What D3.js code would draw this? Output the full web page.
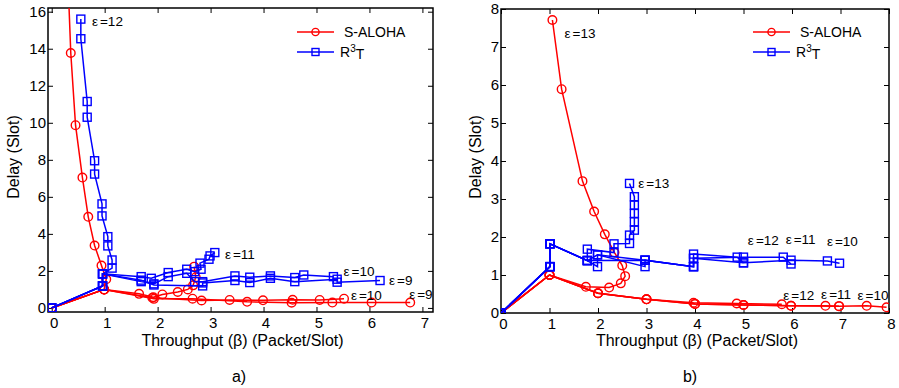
<!DOCTYPE html>
<html lang="en">
<head>
<meta charset="UTF-8">
<title>Delay vs Throughput: S-ALOHA and R3T</title>
<script src="https://d3js.org/d3.v7.min.js"></script>
<style>
  body { margin: 0; background: #fff; }
  svg { display: block; font-family: "Liberation Sans", Arial, sans-serif; }
  .axis text { font-size: 15px; fill: #000; font-family: "Liberation Sans", Arial, sans-serif; }
  .axis line { stroke: #000; stroke-width: 1; }
  .axis-title { font-size: 16px; fill: #000; }
  .caption { font-size: 16px; fill: #000; }
  .eps { font-size: 13.5px; fill: #000; }
  .legend-text { font-size: 14px; fill: #000; }
</style>
</head>
<body>
<svg id="chart" width="899" height="388"></svg>
<script>
// ---- panel a) data: [throughput, delay] ----
const alohaA12 = [[0,0],[0.99,1.0],[1.03,1.55],[0.94,2.29],[0.81,3.37],[0.69,4.92],[0.58,7.04],[0.45,9.87],[0.36,13.77],[0.27,20.5]];
const alohaA11 = [[0,0],[0.99,1.0],[1.65,0.76],[1.92,0.58],[2.09,0.73],[2.38,0.86],[2.57,1.0],[2.67,1.22],[2.72,1.66],[2.69,2.23]];
const alohaA10 = [[0,0],[0.99,1.0],[1.90,0.55],[2.83,0.40],[3.36,0.43],[3.99,0.41],[4.55,0.44],[5.06,0.43],[5.52,0.50]];
const alohaA9  = [[0,0],[0.99,1.0],[1.93,0.49],[2.66,0.50],[3.69,0.33],[4.53,0.28],[5.30,0.29],[6.04,0.29],[6.77,0.29]];

const r3tA12 = [[0,0],[0.96,1.19],[0.96,1.84],[1.14,2.15],[1.14,2.59],[1.06,3.35],[1.06,3.85],[0.95,4.97],[0.95,5.62],[0.81,7.23],[0.81,7.95],[0.67,10.3],[0.67,11.15],[0.55,14.54],[0.55,15.6]];
const r3tA11 = [[0,0],[0.96,1.19],[0.96,1.84],[1.69,1.69],[1.88,1.60],[2.20,1.91],[2.55,2.09],[2.70,1.96],[2.82,2.09],[2.80,2.42],[2.97,2.63],[2.99,2.81],[3.08,2.99]];
const r3tA10 = [[0,0],[0.96,1.19],[0.96,1.84],[1.69,1.42],[1.93,1.30],[2.20,1.69],[2.55,1.87],[2.70,1.42],[2.85,1.42],[3.46,1.73],[3.74,1.66],[4.13,1.73],[4.59,1.64],[4.76,1.78],[5.32,1.69]];
const r3tA9  = [[0,0],[0.96,1.19],[0.96,1.84],[1.69,1.50],[1.93,1.24],[2.85,1.19],[2.85,1.35],[3.46,1.48],[3.74,1.37],[4.13,1.60],[4.59,1.42],[5.39,1.55],[5.39,1.39],[6.20,1.48]];

const labelsA = [
  { x: 0.76, y: 15.5, text: "12" }, { x: 3.27, y: 2.9, text: "11" },
  { x: 5.51, y: 1.96, text: "10" }, { x: 6.37, y: 1.52, text: "9" },
  { x: 5.65, y: 0.66, text: "10" }, { x: 6.75, y: 0.76, text: "9" }
];

// ---- panel b) data ----
const alohaB13 = [[0,0],[1.0,1.0],[1.75,0.69],[2.23,0.67],[2.47,0.78],[2.56,0.97],[2.50,1.25],[2.34,1.59],[2.14,2.07],[1.92,2.67],[1.68,3.47],[1.25,5.89],[1.06,7.71]];
const alohaB12 = [[0,0],[1.0,1.0],[2.0,0.52],[3.0,0.36],[3.97,0.27],[4.86,0.25],[5.79,0.23]];
const alohaB11 = [[0,0],[1.0,1.0],[2.0,0.52],[3.0,0.36],[4.0,0.24],[5.0,0.21],[5.98,0.19],[6.69,0.19],[6.97,0.18]];
const alohaB10 = [[0,0],[1.0,1.0],[2.0,0.52],[3.0,0.36],[4.0,0.24],[5.0,0.21],[5.98,0.19],[6.97,0.18],[7.54,0.19],[7.95,0.15]];

const r3tB13 = [[0,0],[1.01,1.22],[1.01,1.82],[1.78,1.38],[1.78,1.68],[2.33,1.59],[2.33,1.82],[2.65,1.83],[2.65,2.05],[2.75,2.18],[2.75,2.40],[2.75,2.62],[2.75,2.84],[2.75,3.06],[2.65,3.41]];
const r3tB12 = [[0,0],[1.01,1.22],[1.01,1.82],[1.78,1.38],[1.99,1.22],[1.99,1.53],[2.97,1.39],[3.97,1.22],[3.97,1.55],[4.87,1.47],[5.0,1.32]];
const r3tB11 = [[0,0],[1.01,1.22],[1.01,1.82],[1.78,1.38],[1.99,1.53],[2.97,1.22],[2.97,1.39],[3.97,1.22],[3.97,1.44],[5.0,1.47],[5.82,1.47],[5.98,1.29]];
const r3tB10 = [[0,0],[1.01,1.22],[1.01,1.82],[1.78,1.38],[2.97,1.39],[3.97,1.22],[3.97,1.44],[5.0,1.32],[5.98,1.39],[6.73,1.37],[6.98,1.31]];

const labelsB = [
  { x: 1.31, y: 7.36, text: "13" }, { x: 2.83, y: 3.41, text: "13" },
  { x: 5.09, y: 1.92, text: "12" }, { x: 5.87, y: 1.95, text: "11" }, { x: 6.72, y: 1.89, text: "10" },
  { x: 5.82, y: 0.47, text: "12" }, { x: 6.60, y: 0.50, text: "11" }, { x: 7.35, y: 0.46, text: "10" }
];

const xTicksA = d3.range(0, 8), yTicksA = d3.range(0, 17, 2);
const xTicksB = d3.range(0, 9), yTicksB = d3.range(0, 9);

const legendNames = ["S-ALOHA", "R3T"];
const red = "#ff0000", blue = "#0000ff";

const panels = [
  { key: "a", left: 48, right: 433, top: 8, bottom: 312,
    xDomain: [-0.07, 7.2], yDomain: [-0.22, 16.2], xTicks: xTicksA, yTicks: yTicksA,
    aloha: [alohaA12, alohaA11, alohaA10, alohaA9], r3t: [r3tA12, r3tA11, r3tA10, r3tA9],
    labels: labelsA, ylabelX: 13, caption: "a)", captionX: 239 },
  { key: "b", left: 501, right: 889, top: 9, bottom: 313,
    xDomain: [0, 8], yDomain: [0, 8], xTicks: xTicksB, yTicks: yTicksB,
    aloha: [alohaB13, alohaB12, alohaB11, alohaB10], r3t: [r3tB13, r3tB12, r3tB11, r3tB10],
    labels: labelsB, ylabelX: 475, caption: "b)", captionX: 690 }
];

const svg = d3.select("#chart");
svg.append("rect").attr("width", 899).attr("height", 388).attr("fill", "#fff");

panels.forEach(p => {
  const x = d3.scaleLinear().domain(p.xDomain).range([p.left, p.right]);
  const y = d3.scaleLinear().domain(p.yDomain).range([p.bottom, p.top]);
  const g = svg.append("g");

  g.append("clipPath").attr("id", "clip-" + p.key)
    .append("rect").attr("x", p.left).attr("y", p.top)
    .attr("width", p.right - p.left).attr("height", p.bottom - p.top);

  // axes with inward ticks
  const bottomAxis = g.append("g").attr("class", "axis").attr("transform", `translate(0,${p.bottom})`)
    .call(d3.axisBottom(x).tickValues(p.xTicks).tickSize(-5).tickSizeOuter(0).tickPadding(5).tickFormat(d3.format("d")));
  bottomAxis.selectAll("text").attr("dx", 2);
  g.append("g").attr("class", "axis").attr("transform", `translate(0,${p.top})`)
    .call(d3.axisTop(x).tickValues(p.xTicks).tickSize(-5).tickSizeOuter(0).tickFormat(""));
  g.append("g").attr("class", "axis").attr("transform", `translate(${p.left},0)`)
    .call(d3.axisLeft(y).tickValues(p.yTicks).tickSize(-5).tickSizeOuter(0).tickPadding(2).tickFormat(d3.format("d")));
  g.append("g").attr("class", "axis").attr("transform", `translate(${p.right},0)`)
    .call(d3.axisRight(y).tickValues(p.yTicks).tickSize(-5).tickSizeOuter(0).tickFormat(""));
  g.selectAll(".axis .domain").remove();

  g.append("rect").attr("x", p.left).attr("y", p.top)
    .attr("width", p.right - p.left).attr("height", p.bottom - p.top)
    .attr("fill", "none").attr("stroke", "#000").attr("stroke-width", 1.5);

  const line = d3.line().x(d => x(d[0])).y(d => y(d[1]));
  const plot = g.append("g").attr("clip-path", `url(#clip-${p.key})`);

  // S-ALOHA (red, circles)
  p.aloha.forEach(s => {
    plot.append("path").datum(s).attr("d", line)
      .attr("fill", "none").attr("stroke", red).attr("stroke-width", 1.5);
    plot.selectAll(null).data(s).join("circle")
      .attr("cx", d => x(d[0])).attr("cy", d => y(d[1])).attr("r", 4.3)
      .attr("fill", "none").attr("stroke", red).attr("stroke-width", 1.4);
  });

  // R3T (blue, squares)
  p.r3t.forEach(s => {
    plot.append("path").datum(s).attr("d", line)
      .attr("fill", "none").attr("stroke", blue).attr("stroke-width", 1.5);
    plot.selectAll(null).data(s).join("rect")
      .attr("x", d => x(d[0]) - 4).attr("y", d => y(d[1]) - 4)
      .attr("width", 8).attr("height", 8)
      .attr("fill", "none").attr("stroke", blue).attr("stroke-width", 1.4);
  });

  // epsilon annotations
  p.labels.forEach(l => {
    const t = g.append("text").attr("class", "eps")
      .attr("x", x(l.x)).attr("y", y(l.y)).attr("dy", "0.35em");
    t.append("tspan").text("ε");
    t.append("tspan").attr("dx", 2).text("=" + l.text);
  });

  // legend
  const lx = p.right - 136;
  [red, blue].forEach((c, i) => {
    const ly = 32 + i * 20;
    g.append("line").attr("x1", lx).attr("x2", lx + 37).attr("y1", ly).attr("y2", ly)
      .attr("stroke", c).attr("stroke-width", 1.5);
    if (i === 0) {
      g.append("circle").attr("cx", lx + 18.5).attr("cy", ly).attr("r", 3.6)
        .attr("fill", "none").attr("stroke", c).attr("stroke-width", 1.4);
    } else {
      g.append("rect").attr("x", lx + 15).attr("y", ly - 3.5).attr("width", 7).attr("height", 7)
        .attr("fill", "none").attr("stroke", c).attr("stroke-width", 1.4);
    }
    const t = g.append("text").attr("class", "legend-text").attr("y", ly).attr("dy", "0.35em");
    if (i === 0) {
      t.attr("x", lx + 47).text(legendNames[0]);
    } else {
      t.attr("x", lx + 43);
      t.append("tspan").text("R");
      t.append("tspan").attr("dy", "-0.5em").attr("font-size", "10px").text("3");
      t.append("tspan").attr("dy", "0.5em").text("T");
    }
  });

  // axis titles and caption
  g.append("text").attr("class", "axis-title").attr("text-anchor", "middle")
    .attr("x", (p.left + p.right) / 2 + 2).attr("y", 346)
    .text("Throughput (β) (Packet/Slot)");
  g.append("text").attr("class", "axis-title").attr("text-anchor", "middle")
    .attr("transform", `translate(${p.ylabelX},157) rotate(-90)`).attr("dy", "0.35em")
    .text("Delay (Slot)");
  g.append("text").attr("class", "caption").attr("text-anchor", "middle")
    .attr("x", p.captionX).attr("y", 382).text(p.caption);
});
</script>
</body>
</html>
